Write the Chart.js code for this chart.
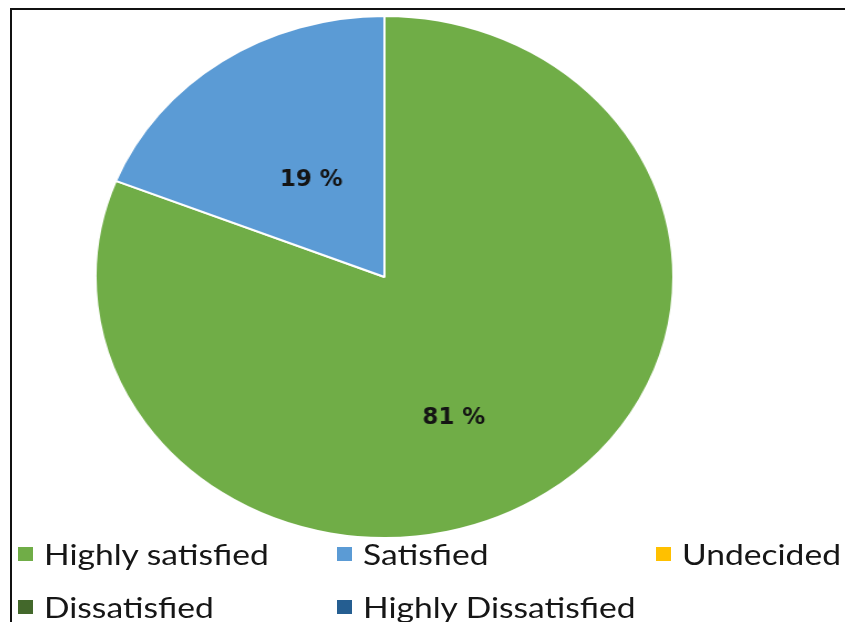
<!DOCTYPE html>
<html>
<head>
<meta charset="utf-8">
<script src="https://cdn.jsdelivr.net/npm/chart.js@4.4.1/dist/chart.umd.min.js"></script>
<style>
  html, body { margin: 0; padding: 0; background: #fff; }
  body { width: 845px; height: 622px; position: relative; overflow: hidden; }
  #frame { position: absolute; left: 10px; top: 8px; width: 900px; height: 700px;
           border-top: 2px solid #111; border-left: 2px solid #111; }
  #wrap { position: absolute; left: 89.5px; top: 11px; width: 532px; height: 532px;
          transform: scaleX(1.107); transform-origin: 0 0; }
  #legend { position: absolute; left: 0; top: 0; width: 845px; height: 622px; pointer-events: none; }
  .item { position: absolute; display: flex; align-items: center; height: 28px; }
  .box { width: 15px; height: 14px; margin-right: 11px; flex: none; }
  .txt { font-family: Lato, "Liberation Sans", sans-serif; font-size: 28px; line-height: 28px;
         color: #161616; white-space: nowrap; display: inline-block;
         transform: scaleX(1.2); transform-origin: 0 50%; }
</style>
</head>
<body>
<div id="frame"></div>
<div id="wrap"><canvas id="c"></canvas></div>
<div id="legend"></div>
<script>
// ---- data ----
const categories = ["Highly satisfied", "Satisfied", "Undecided", "Dissatisfied", "Highly Dissatisfied"];
const percentValues = [81, 19, 0, 0, 0];
const sliceColors = ["#70AD47", "#5B9BD5", "#FFC000", "#43682B", "#255E91"];

// label placement (style): radial fraction and angular fraction inside each slice
const labelRadius = [0.59, 0.45, 0.5, 0.5, 0.5];
const labelAngleFrac = [0.535, 0.5, 0.5, 0.5, 0.5];

const pctLabels = {
  id: 'pctLabels',
  afterDatasetsDraw(chart) {
    const ctx = chart.ctx;
    const meta = chart.getDatasetMeta(0);
    const vals = chart.data.datasets[0].data;
    ctx.save();
    ctx.font = 'bold 23px "DejaVu Sans Condensed", "DejaVu Sans", sans-serif';
    ctx.fillStyle = '#141414';
    ctx.textAlign = 'center';
    ctx.textBaseline = 'middle';
    meta.data.forEach((arc, i) => {
      if (!vals[i]) return;
      const p = arc.getProps(['x', 'y', 'startAngle', 'endAngle', 'outerRadius'], true);
      const a = p.startAngle + (p.endAngle - p.startAngle) * labelAngleFrac[i];
      const r = p.outerRadius * labelRadius[i];
      ctx.fillText(vals[i] + ' %', p.x + Math.cos(a) * r, p.y + Math.sin(a) * r);
    });
    ctx.restore();
  }
};

new Chart(document.getElementById('c'), {
  type: 'pie',
  data: {
    labels: categories,
    datasets: [{
      data: percentValues,
      backgroundColor: sliceColors,
      borderColor: '#ffffff',
      borderWidth: 2
    }]
  },
  options: {
    responsive: true,
    maintainAspectRatio: false,
    animation: false,
    layout: { padding: 4 },
    plugins: {
      legend: { display: false },
      tooltip: { enabled: false }
    }
  },
  plugins: [pctLabels]
});

// HTML legend built from the same arrays
const legendCols = [18, 337, 656];
const legendRows = [540, 593];
const legend = document.getElementById('legend');
categories.forEach((name, i) => {
  const row = i < 3 ? 0 : 1;
  const col = i < 3 ? i : i - 3;
  const it = document.createElement('div');
  it.className = 'item';
  it.style.left = legendCols[col] + 'px';
  it.style.top = legendRows[row] + 'px';
  const b = document.createElement('span');
  b.className = 'box';
  b.style.background = sliceColors[i];
  const t = document.createElement('span');
  t.className = 'txt';
  t.textContent = name;
  it.appendChild(b);
  it.appendChild(t);
  legend.appendChild(it);
});
</script>
</body>
</html>
